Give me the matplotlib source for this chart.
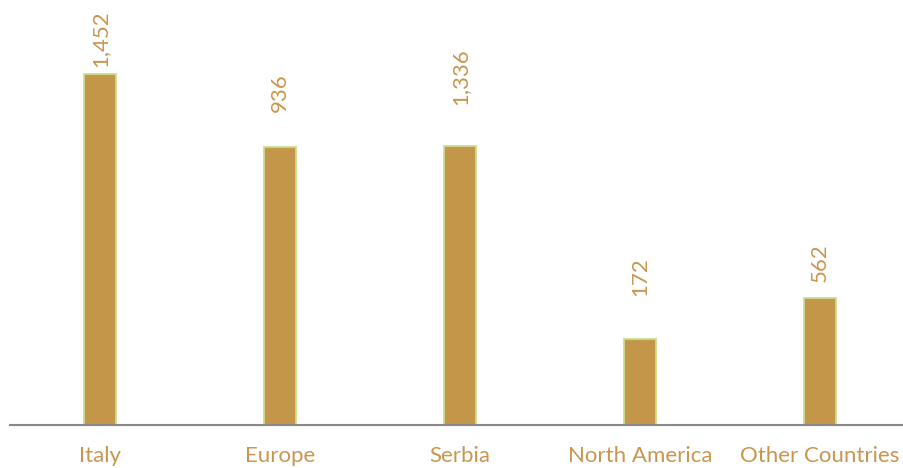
import matplotlib.pyplot as plt

regions = ["Italy", "Europe", "Serbia", "North America", "Other Countries"]
label_values = [1452, 936, 1336, 172, 562]
# bar heights as drawn in the original (not proportional to labels)
bar_heights = [1452, 1150, 1154, 356, 525]

bar_color = "#C4964A"
edge_color = "#C9DE8E"
text_color = "#C9964F"
label_gap = [7, 35, 41, 43, 16]  # pixels between bar top and label

plt.rcParams['font.family'] = ['Lato', 'DejaVu Sans']

fig = plt.figure(figsize=(9.04, 4.68), dpi=100)
ax = fig.add_axes([10 / 904, 43 / 468, 900 / 904, 425 / 468])

x = range(len(regions))
ax.bar(x, bar_heights, width=0.175, color=bar_color, edgecolor=edge_color, linewidth=1.3)

for i, v in enumerate(label_values):
    ax.annotate(f"{v:,}", (i, bar_heights[i]), xytext=(0, label_gap[i] * 0.72),
                textcoords="offset points", rotation=90, ha="center", va="bottom",
                color=text_color, fontsize=16)

ax.set_xlim(-0.5, 4.5)
ax.set_ylim(0, 425 * 1452 / 351)
ax.set_xticks(list(x))
ax.set_xticklabels(regions, color=text_color, fontsize=16)
ax.tick_params(axis="x", length=0, pad=15)
ax.set_yticks([])
for s in ["top", "right", "left"]:
    ax.spines[s].set_visible(False)
ax.spines["bottom"].set_color("#888888")
ax.spines["bottom"].set_linewidth(1.5)

fig.savefig("out.png", dpi=100)
